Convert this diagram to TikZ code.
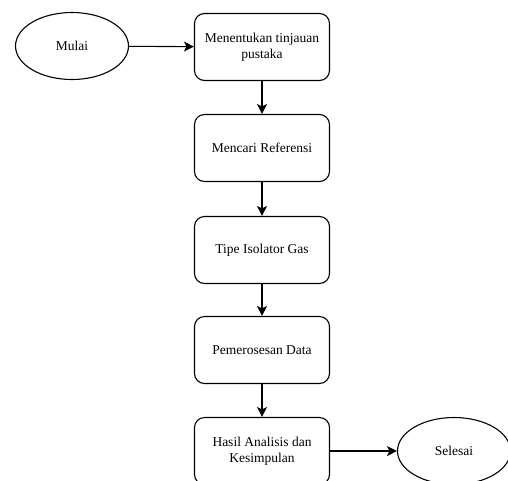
\documentclass[tikz,border=0pt]{standalone}
\usepackage{fontspec}
\setmainfont{Liberation Serif}
\usetikzlibrary{arrows.meta,shapes.geometric}
\begin{document}
\begin{tikzpicture}[x=1pt,y=1pt,
  box/.style={draw, line width=1.1pt, rounded corners=10pt, minimum width=135pt, minimum height=67pt, align=center, font=\fontsize{13.5}{16}\selectfont, inner sep=2pt},
  oval/.style={draw, line width=1.1pt, ellipse, minimum width=113pt, minimum height=67pt, inner sep=0pt, font=\fontsize{13.5}{16}\selectfont},
  arr/.style={line width=1.1pt, -{Stealth[length=10pt,width=10pt,inset=2.5pt]}}]
\useasboundingbox (0,0) rectangle (508,-480);
\node[oval] (mulai) at (72,-46) {Mulai};
\node[box] (b1) at (262,-47) {Menentukan tinjauan\\pustaka};
\node[box] (b2) at (262,-148) {Mencari Referensi};
\node[box] (b3) at (262,-250) {Tipe Isolator Gas};
\node[box] (b4) at (262,-350) {Pemerosesan Data};
\node[box] (b5) at (262,-451) {Hasil Analisis dan\\Kesimpulan};
\node[oval] (selesai) at (454,-451) {Selesai};
\draw[arr] (mulai) -- (b1);
\draw[arr] (b1) -- (b2);
\draw[arr] (b2) -- (b3);
\draw[arr] (b3) -- (b4);
\draw[arr] (b4) -- (b5);
\draw[arr] (b5) -- (selesai);
\end{tikzpicture}
\end{document}
